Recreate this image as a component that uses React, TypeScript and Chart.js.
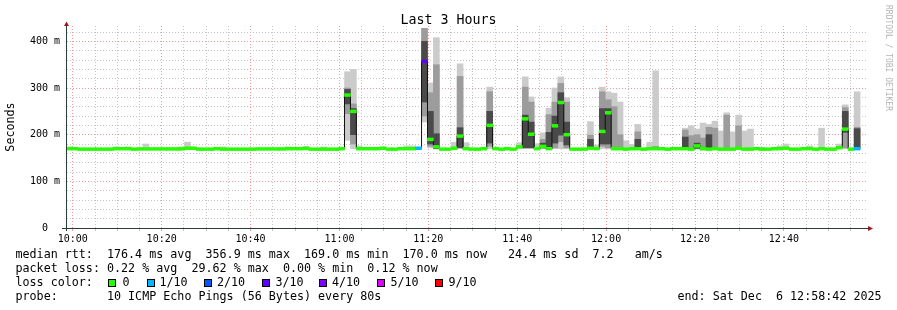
import { useEffect, useRef } from 'react';
import { Chart, registerables } from 'chart.js';

Chart.register(...registerables);

const FONT = "'DejaVu Sans Mono', monospace";
const _ = null;

// ---- time axis (minutes relative to 10:00) ----
const X_MIN = -1.3; // 09:58:42
const X_MAX = 178.7; // 12:58:42
const STEP_MINUTES = 80 / 60; // one sample every 80 s
const FIRST_STEP_CENTER = -0.858;
const X_TICK_MINUTES = [0, 5, 10, 15, 20, 25, 30, 35, 40, 45, 50, 55, 60, 65, 70, 75, 80, 85, 90, 95, 100, 105, 110, 115, 120, 125, 130, 135, 140, 145, 150, 155, 160, 165, 170, 175];
const X_LABEL_MINUTES = [0, 20, 40, 60, 80, 100, 120, 140, 160];
const X_LABELS = ['10:00', '10:20', '10:40', '11:00', '11:20', '11:40', '12:00', '12:20', '12:40'];

// ---- value axis (ms) ----
const Y_MAX = 433;
const Y_TICKS = [0, 20, 40, 60, 80, 100, 120, 140, 160, 180, 200, 220, 240, 260, 280, 300, 320, 340, 360, 380, 400, 420];
const Y_LABEL_VALUES = [0, 100, 200, 300, 400];
const Y_LABELS = ['0  ', '100 m', '200 m', '300 m', '400 m'];

// ---- loss colours ----
const LOSS_NAMES = ['0', '1/10', '2/10', '3/10', '4/10', '5/10', '9/10'];
const LOSS_COLORS = ['#26ff00', '#00b8ff', '#0059ff', '#5e00ff', '#7e00ff', '#dd00ff', '#ff0000'];

// ---- series: one value per 80 s step (134 steps) ----
const MEDIAN = [
  170, 170, 169, 169, 169, 169, 169, 169, 170, 170,
  170, 169, 169.5, 169.5, 169.5, 169.5, 169.5, 169.5, 169.5, 169.5,
  171, 171, 169, 169, 169, 170, 169, 169, 169, 169,
  169, 169, 169.5, 169.5, 169.5, 169.5, 169.5, 170, 170, 170,
  170.5, 169, 169, 169, 169, 169, 170, 285, 250, 170,
  170, 170, 170, 171, 169, 169, 170, 170, 170, 171,
  357, 190, 174, 169, 169, 171, 197, 170, 169, 169,
  170, 220, 170, 169, 170, 169, 174, 234, 201, 170,
  175, 170, 219, 269, 200, 169, 169, 169, 171, 170,
  207, 247, 170, 170, 169, 170, 170, 169, 170, 170,
  170, 169, 170, 170, 170, 169, 176, 170, 169, 170,
  169, 169, 169, 171, 169, 169, 170, 169, 169, 170,
  170, 171, 169, 169, 170, 170, 169, 170, 169, 169,
  172, 212, 169, 170,
];

// pings lost out of 10
const LOSS = [
  0, 0, 0, 0, 0, 0, 0, 0, 0, 0,
  0, 0, 0, 0, 0, 0, 0, 0, 0, 0,
  0, 0, 0, 0, 0, 0, 0, 0, 0, 0,
  0, 0, 0, 0, 0, 0, 0, 0, 0, 0,
  0, 0, 0, 0, 0, 0, 0, 0, 0, 0,
  0, 0, 0, 0, 0, 0, 0, 0, 0, 1,
  3, 0, 0, 0, 0, 0, 0, 0, 0, 0,
  0, 0, 0, 0, 0, 0, 0, 0, 0, 0,
  0, 0, 0, 0, 0, 0, 0, 0, 0, 0,
  0, 0, 0, 0, 0, 0, 0, 0, 0, 0,
  0, 0, 0, 0, 0, 0, 0, 0, 0, 0,
  0, 0, 0, 0, 0, 0, 0, 0, 0, 0,
  0, 0, 0, 0, 0, 0, 0, 0, 0, 0,
  0, 0, 0, 1,
];

// smoke: outer band (min..max of the pings)
const OUTER_LO = [
  169, _, _, _, _, _, _, _, 169, _,
  169, _, _, 169, _, _, _, _, _, 169,
  170, _, _, _, _, _, 169, _, _, _,
  _, _, _, _, _, _, _, 169, _, _,
  169, _, _, 169, _, _, _, 188, 170, 169,
  _, _, _, 170, _, _, _, 169, 169, _,
  227, 172, 169, _, _, 169, 170, 169, _, _,
  _, 170, _, _, _, _, 170, 170, 170, 169,
  170, 169, 170, 170, 170, _, _, _, 169, 169,
  170, 170, 169, 169, 169, 169, 170, _, 169, 169,
  _, _, _, _, 169, 169, 169, 167, 169, 169,
  169, 169, 169, 169, 169, 169, _, 169, _, _,
  169, 169, _, _, _, 169, _, 169, _, _,
  170, 170, _, 169,
];
const OUTER_HI = [
  174, _, _, _, _, _, _, _, 174, _,
  174, _, _, 180, _, _, _, _, _, 174,
  184, _, _, _, _, _, 174, _, _, _,
  _, _, _, _, _, _, _, 174, _, _,
  175, _, _, 174, _, _, _, 335, 340, 176,
  _, _, _, 173, _, _, _, 176, 176, _,
  428, 311, 408, _, _, 184, 352, 183, _, _,
  _, 302, _, _, _, _, 183, 324, 281, 181,
  204, 257, 300, 324, 279, _, _, _, 228, 178,
  302, 292, 289, 270, 187, 179, 222, _, 184, 337,
  _, _, _, _, 214, 219, 212, 225, 222, 229,
  208, 247, 206, 242, 208, 212, _, 173, _, _,
  176, 180, _, _, _, 176, _, 214, _, _,
  180, 264, _, 292,
];
// smoke: middle band
const MID_LO = [
  _, _, _, _, _, _, _, _, _, _,
  _, _, _, _, _, _, _, _, _, _,
  _, _, _, _, _, _, _, _, _, _,
  _, _, _, _, _, _, _, _, _, _,
  _, _, _, _, _, _, _, 245, 180, _,
  _, _, _, _, _, _, _, _, _, _,
  240, 175, 171, _, _, _, 172, _, _, _,
  _, 175, _, _, _, _, _, 172, 172, _,
  171, 170, 172, 185, 172, _, _, _, 172, _,
  175, 172, 170, 170, _, _, 170, _, _, 170,
  _, _, _, _, 170, 170, 170, 170, 170, 170,
  _, 170, _, 170, _, _, _, _, _, _,
  _, _, _, _, _, _, _, _, _, _,
  _, 172, _, 171,
];
const MID_HI = [
  _, _, _, _, _, _, _, _, _, _,
  _, _, _, _, _, _, _, _, _, _,
  _, _, _, _, _, _, _, _, _, _,
  _, _, _, _, _, _, _, _, _, _,
  _, _, _, _, _, _, _, 300, 266, _,
  _, _, _, _, _, _, _, _, _, _,
  428, 290, 350, _, _, _, 325, _, _, _,
  _, 292, _, _, _, _, _, 302, 270, _,
  190, 243, 270, 310, 270, _, _, _, 199, _,
  292, 275, 260, 200, _, _, 206, _, _, 175,
  _, _, _, _, 210, 198, 200, 193, 216, 214,
  _, 242, _, 219, _, _, _, _, _, _,
  _, _, _, _, _, _, _, _, _, _,
  _, 258, _, 216,
];
// smoke: inner (darkest) band
const INNER_LO = [
  _, _, _, _, _, _, _, _, _, _,
  _, _, _, _, _, _, _, _, _, _,
  _, _, _, _, _, _, _, _, _, _,
  _, _, _, _, _, _, _, _, _, _,
  _, _, _, _, _, _, _, 266, 200, _,
  _, _, _, _, _, _, _, _, _, _,
  270, 180, 170, _, _, _, 172, _, _, _,
  _, 182, _, _, _, _, _, 172, 172, _,
  172, 170, 182, 199, 178, _, _, _, 172, _,
  180, 180, _, _, _, _, 170, _, _, _,
  _, _, _, _, 170, _, 171, _, 170, _,
  _, _, _, _, _, _, _, _, _, _,
  _, _, _, _, _, _, _, _, _, _,
  _, 205, _, 171,
];
const INNER_HI = [
  _, _, _, _, _, _, _, _, _, _,
  _, _, _, _, _, _, _, _, _, _,
  _, _, _, _, _, _, _, _, _, _,
  _, _, _, _, _, _, _, _, _, _,
  _, _, _, _, _, _, _, 297, 256, _,
  _, _, _, _, _, _, _, _, _, _,
  400, 250, 202, _, _, _, 215, _, _, _,
  _, 250, _, _, _, _, _, 242, 227, _,
  182, 205, 240, 290, 227, _, _, _, 190, _,
  256, 256, _, _, _, _, 190, _, _, _,
  _, _, _, _, 195, _, 182, _, 200, _,
  _, _, _, _, _, _, _, _, _, _,
  _, _, _, _, _, _, _, _, _, _,
  _, 250, _, 213,
];

// ---- legend texts ----
const TITLE = 'Last 3 Hours';
const LINE_RTT = 'median rtt:  176.4 ms avg  356.9 ms max  169.0 ms min  170.0 ms now   24.4 ms sd  7.2   am/s';
const LINE_LOSS = 'packet loss: 0.22 % avg  29.62 % max  0.00 % min  0.12 % now';
const LINE_COLOR = 'loss color:';
const LINE_PROBE = 'probe:       10 ICMP Echo Pings (56 Bytes) every 80s';
const LINE_END = 'end: Sat Dec  6 12:58:42 2025';
const WATERMARK = 'RRDTOOL / TOBI OETIKER';
const Y_TITLE = 'Seconds';

// ---- styles ----
const GRID_GREY = '#c4c4c4';
const GRID_RED = '#f29a9a';
const AXIS_COLOR = '#2c3c38';
const ARROW_COLOR = '#9a1a1a';
const OUTER_COLOR = '#cbcbcb';
const MID_COLOR = '#9c9c9c';
const INNER_COLOR = '#4a4a4a';
const MEDIAN_HALF = 3; // half height of the loss-coloured median mark (ms)
const LEGEND_BOX_X = [108, 146.5, 204, 261.5, 319, 376.5, 434.5];
const LEGEND_TEXT_X = [122.5, 159.5, 217, 275.5, 332, 390.5, 448.5];

function lossColor(n: number) {
  return LOSS_COLORS[Math.min(n, LOSS_COLORS.length - 1)];
}

const axesPlugin = {
  id: 'rrdAxes',
  afterDatasetsDraw(chart: any) {
    const { ctx, chartArea } = chart;
    const { left, right, top, bottom } = chartArea;
    ctx.save();
    ctx.strokeStyle = AXIS_COLOR;
    ctx.lineWidth = 1;
    ctx.beginPath();
    ctx.moveTo(left - 5, bottom + 0.5);
    ctx.lineTo(right + 2, bottom + 0.5);
    ctx.moveTo(left - 0.5, bottom + 3);
    ctx.lineTo(left - 0.5, top);
    ctx.stroke();
    ctx.fillStyle = ARROW_COLOR;
    ctx.beginPath();
    ctx.moveTo(left - 3, top);
    ctx.lineTo(left + 2, top);
    ctx.lineTo(left - 0.5, top - 4.5);
    ctx.closePath();
    ctx.fill();
    ctx.beginPath();
    ctx.moveTo(right + 1, bottom - 2);
    ctx.lineTo(right + 1, bottom + 3);
    ctx.lineTo(right + 6, bottom + 0.5);
    ctx.closePath();
    ctx.fill();
    ctx.restore();
  },
};

export default function App() {
  const ref = useRef<HTMLCanvasElement>(null);

  useEffect(() => {
    const centers = MEDIAN.map((_v, i) => FIRST_STEP_CENTER + i * STEP_MINUTES);
    const band = (lo: (number | null)[], hi: (number | null)[]) =>
      lo
        .map((l, i) => (l == null || hi[i] == null ? null : { x: centers[i], y: [l, hi[i]] }))
        .filter((p) => p !== null);

    const barCommon = {
      type: 'bar' as const,
      grouped: false,
      barPercentage: 1,
      categoryPercentage: 1,
      borderWidth: 0,
    };

    const chart = new Chart(ref.current as HTMLCanvasElement, {
      type: 'bar',
      data: {
        datasets: [
          {
            ...barCommon,
            label: 'median',
            order: 0,
            data: MEDIAN.map((m, i) => ({ x: centers[i], y: [m - MEDIAN_HALF, m + MEDIAN_HALF] })),
            backgroundColor: LOSS.map((l) => lossColor(l)),
          } as any,
          {
            type: 'line',
            label: 'median line',
            order: 1,
            data: MEDIAN.map((m, i) => ({ x: centers[i], y: m })),
            stepped: 'middle',
            borderColor: '#111111',
            borderWidth: 1,
            pointRadius: 0,
            fill: false,
          } as any,
          { ...barCommon, label: 'inner', order: 2, data: band(INNER_LO, INNER_HI), backgroundColor: INNER_COLOR } as any,
          { ...barCommon, label: 'mid', order: 3, data: band(MID_LO, MID_HI), backgroundColor: MID_COLOR } as any,
          { ...barCommon, label: 'outer', order: 4, data: band(OUTER_LO, OUTER_HI), backgroundColor: OUTER_COLOR } as any,
        ],
      },
      options: {
        responsive: false,
        animation: false,
        devicePixelRatio: 1,
        events: [],
        layout: { padding: { top: 26, right: 30, left: 0, bottom: 0 } },
        plugins: {
          legend: { display: false },
          title: { display: false },
          tooltip: { enabled: false },
        },
        scales: {
          x: {
            type: 'linear',
            min: X_MIN,
            max: X_MAX,
            bounds: 'data',
            offset: false,
            grid: {
              offset: false,
              lineWidth: 1,
              drawTicks: true,
              tickLength: 3,
              color: (c: any) => (X_LABEL_MINUTES.includes(c.tick?.value) ? GRID_RED : GRID_GREY),
              tickColor: (c: any) => (X_LABEL_MINUTES.includes(c.tick?.value) ? GRID_RED : GRID_GREY),
            },
            border: { display: false, dash: [1, 2] },
            afterBuildTicks: (s: any) => {
              s.ticks = X_TICK_MINUTES.map((v) => ({ value: v }));
            },
            afterFit: (s: any) => {
              s.height = 82;
            },
            ticks: {
              autoSkip: false,
              maxRotation: 0,
              minRotation: 0,
              padding: 2,
              color: '#000',
              font: { family: FONT, size: 10 },
              callback: (v: any) => {
                const i = X_LABEL_MINUTES.indexOf(Number(v));
                return i >= 0 ? X_LABELS[i] : '';
              },
            },
          },
          y: {
            type: 'linear',
            min: 0,
            max: Y_MAX,
            bounds: 'data',
            grid: {
              lineWidth: 1,
              drawTicks: false,
              color: (c: any) => (Y_LABEL_VALUES.includes(c.tick?.value) ? GRID_RED : GRID_GREY),
            },
            border: { display: false, dash: [1, 2] },
            afterBuildTicks: (s: any) => {
              s.ticks = Y_TICKS.map((v) => ({ value: v }));
            },
            afterFit: (s: any) => {
              s.width = 67;
            },
            ticks: {
              autoSkip: false,
              padding: 7,
              color: '#000',
              font: { family: FONT, size: 10 },
              callback: (v: any) => {
                const i = Y_LABEL_VALUES.indexOf(Number(v));
                return i >= 0 ? Y_LABELS[i] : '';
              },
            },
            title: {
              display: true,
              text: Y_TITLE,
              color: '#000',
              font: { family: FONT, size: 11.7 },
              padding: { top: 4, bottom: 0 },
            },
          },
        },
      } as any,
      plugins: [axesPlugin],
    });
    return () => chart.destroy();
  }, []);

  const textStyle: any = {
    position: 'absolute',
    fontFamily: FONT,
    fontSize: '11.7px',
    lineHeight: '14px',
    whiteSpace: 'pre',
    color: '#000',
  };

  return (
    <div style={{ position: 'absolute', left: 0, top: 0, width: 897, height: 310, background: '#fff', overflow: 'hidden' }}>
      <canvas ref={ref} width={897} height={310} style={{ position: 'absolute', left: 0, top: 0, width: 897, height: 310 }} />
      <div style={{ ...textStyle, left: 0, top: 11.5, width: 897, textAlign: 'center', fontSize: '13.3px', lineHeight: '16px' }}>{TITLE}</div>
      <div style={{ ...textStyle, left: 883, top: 5, fontSize: '8px', lineHeight: '10px', color: '#b4b4b4', writingMode: 'vertical-rl' }}>{WATERMARK}</div>
      <div style={{ ...textStyle, left: 15.5, top: 247.3 }}>{LINE_RTT}</div>
      <div style={{ ...textStyle, left: 15.5, top: 261.3 }}>{LINE_LOSS}</div>
      <div style={{ ...textStyle, left: 15.5, top: 275.3 }}>{LINE_COLOR}</div>
      {LOSS_NAMES.map((name, i) => (
        <div key={name}>
          <div
            style={{
              position: 'absolute',
              left: LEGEND_BOX_X[i],
              top: 278.5,
              width: 6,
              height: 6,
              border: '1px solid #000',
              background: LOSS_COLORS[i],
            }}
          />
          <div style={{ ...textStyle, left: LEGEND_TEXT_X[i], top: 275.3 }}>{name}</div>
        </div>
      ))}
      <div style={{ ...textStyle, left: 15.5, top: 289 }}>{LINE_PROBE}</div>
      <div style={{ ...textStyle, left: 677.5, top: 289 }}>{LINE_END}</div>
    </div>
  );
}
